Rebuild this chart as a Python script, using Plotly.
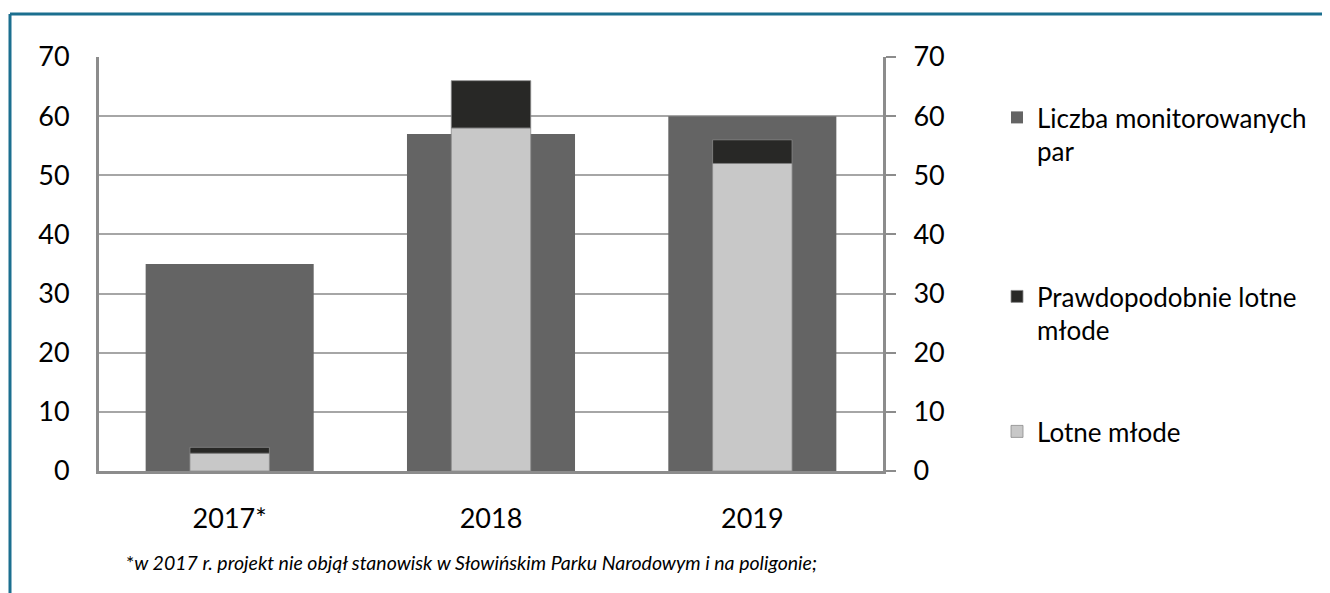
import plotly.graph_objects as go

# ---- data ----
years = ["2017*", "2018", "2019"]
monitored_pairs = [35, 57, 60]          # Liczba monitorowanych par
fledged = [3, 58, 52]                   # Lotne młode
probably_fledged = [1, 8, 4]            # Prawdopodobnie lotne młode
y_ticks = [0, 10, 20, 30, 40, 50, 60, 70]

FONT = "Lato, sans-serif"

# page body has an 8px margin; work in screen pixels and convert
OFF = 8
SW, SH = 1330, 593
W, H = SW - OFF, SH - OFF
# plot area in screen pixels
PX0, PX1, PY0, PY1 = 99, 883, 57, 471
L, R, T, B = PX0 - OFF, W - (PX1 - OFF), PY0 - OFF, H - (PY1 - OFF)
PW, PH = PX1 - PX0, PY1 - PY0

def px_x(x):
    return (x - PX0) / PW

def px_y(y):
    return (PY1 - y) / PH

fig = go.Figure()

fig.add_trace(go.Bar(
    x=years, y=monitored_pairs, name="Liczba monitorowanych<br>par",
    marker=dict(color="#646464", line=dict(width=0)),
    width=0.643, yaxis="y", legend="legend",
))
fig.add_trace(go.Bar(
    x=years, y=fledged, name="Lotne młode",
    marker=dict(color="#c8c8c8", line=dict(width=0.8, color="#8a8a8a")),
    width=0.304, yaxis="y2", legend="legend3",
))
fig.add_trace(go.Bar(
    x=years, y=probably_fledged, base=fledged, name="Prawdopodobnie lotne<br>młode",
    marker=dict(color="#282826", line=dict(width=0.8, color="#8a8a8a")),
    width=0.304, yaxis="y2", legend="legend2",
))

legend_common = dict(
    font=dict(family=FONT, size=26, color="#000000"),
    bgcolor="rgba(0,0,0,0)", xanchor="left", yanchor="top",
    valign="top", itemwidth=30, tracegroupgap=0,
)

TICK_SIZE = 27

fig.update_layout(
    width=W, height=H,
    margin=dict(l=L, r=R, t=T, b=B, pad=0),
    paper_bgcolor="white", plot_bgcolor="white",
    barmode="overlay",
    showlegend=True,
    font=dict(family=FONT, size=TICK_SIZE, color="#000000"),
    xaxis=dict(
        type="category", showgrid=False, showline=True, linecolor="#8c8c8c",
        linewidth=3, ticks="", tickfont=dict(size=TICK_SIZE), ticklabelstandoff=22,
        range=[-0.5, 2.5],
    ),
    yaxis=dict(
        range=[0, 70], tickvals=y_ticks, showgrid=True, gridcolor="#a6a6a6",
        gridwidth=2, showline=True, linecolor="#8c8c8c", linewidth=3,
        ticks="", ticklabelstandoff=21, tickfont=dict(size=TICK_SIZE),
        zeroline=False, mirror=False,
    ),
    yaxis2=dict(
        range=[0, 70], tickvals=y_ticks, overlaying="y", side="right",
        showgrid=False, showline=True, linecolor="#8c8c8c", linewidth=3,
        ticks="outside", ticklen=10, tickcolor="#8c8c8c", tickwidth=2,
        ticklabelstandoff=12, tickfont=dict(size=TICK_SIZE), zeroline=False,
    ),
    legend=dict(x=px_x(997), y=px_y(94), **legend_common),
    legend2=dict(x=px_x(997), y=px_y(273), **legend_common),
    legend3=dict(x=px_x(997), y=px_y(408), **legend_common),
)

# outer teal frame (top and left edges visible)
frame_color = "#1b6f8f"
fig.add_shape(type="line", xref="paper", yref="paper",
              x0=px_x(10), x1=px_x(1340), y0=px_y(14), y1=px_y(14),
              line=dict(color=frame_color, width=3))
fig.add_shape(type="line", xref="paper", yref="paper",
              x0=px_x(10), x1=px_x(10), y0=px_y(14), y1=px_y(610),
              line=dict(color=frame_color, width=3))

fig.add_annotation(
    xref="paper", yref="paper", x=px_x(471), y=px_y(562),
    xanchor="center", yanchor="middle", showarrow=False,
    text="*<i>w 2017 r. projekt nie objął stanowisk w Słowińskim Parku Narodowym i na poligonie;</i>",
    font=dict(family=FONT, size=19.5, color="#000000"),
)

fig.write_html("out.html")
